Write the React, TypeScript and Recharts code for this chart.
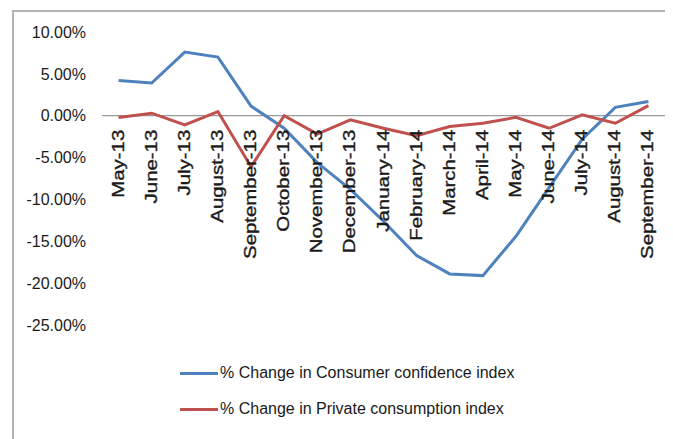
import React from 'react';
import { LineChart, Line, XAxis, YAxis, ReferenceLine } from 'recharts';

const months = [
  'May-13', 'June-13', 'July-13', 'August-13', 'September-13', 'October-13', 'November-13',
  'December-13', 'January-14', 'February-14', 'March-14', 'April-14', 'May-14', 'June-14',
  'July-14', 'August-14', 'September-14',
];
const consumerConfidence = [
  4.2, 3.9, 7.6, 7.0, 1.15, -1.5, -5.6, -8.8, -12.6, -16.7, -18.9, -19.1, -14.4, -8.6, -2.8, 1.0, 1.7,
];
const privateConsumption = [
  -0.2, 0.3, -1.1, 0.5, -6.1, 0.0, -2.2, -0.5, -1.5, -2.4, -1.3, -0.9, -0.2, -1.5, 0.1, -0.9, 1.2,
];
const yTicks = [-25, -20, -15, -10, -5, 0, 5, 10];
const seriesNames = ['% Change in Consumer confidence index', '% Change in Private consumption index'];

const BLUE = '#4f81bd';
const RED = '#c0504d';
const FONT = '"Liberation Sans", Arial, sans-serif';

const W = 659;
const H = 330;
const MARGIN = { top: 20, right: 8, left: 0, bottom: 16 };
const X_AXIS_H = 1;
const Y_MIN = -25;
const Y_MAX = 10;

const data = months.map((m, i) => ({
  month: m,
  consumer: consumerConfidence[i],
  privateCons: privateConsumption[i],
}));

// y of the 0% line inside the svg, from the plot box and the y domain
const plotH = H - MARGIN.top - MARGIN.bottom - X_AXIS_H;
const zeroY = MARGIN.top + (plotH * Y_MAX) / (Y_MAX - Y_MIN);

// Excel puts the category labels next to the 0% axis, not at the bottom
const renderMonthTick = (props: any) => {
  const { x, payload } = props;
  const tx = x + 5;
  const ty = zeroY + 14;
  return (
    <text
      x={0}
      y={0}
      transform={`translate(${tx},${ty}) rotate(-90) scale(1.2,1)`}
      textAnchor="end"
      fontFamily={FONT}
      fontSize={17}
      fill="#1a1a1a"
      stroke="#1a1a1a"
      strokeWidth={0.35}
    >
      {payload.value}
    </text>
  );
};

export default function App() {
  const colors = [BLUE, RED];
  return (
    <div
      style={{
        position: 'relative',
        marginLeft: 4,
        marginTop: 2,
        width: W,
        height: 427,
        borderTop: '2px solid #b4b4b4',
        borderLeft: '2px solid #b4b4b4',
        background: '#fff',
      }}
    >
      <LineChart width={W} height={H} data={data} margin={MARGIN}>
        <XAxis
          dataKey="month"
          scale="band"
          height={X_AXIS_H}
          axisLine={false}
          tickLine={false}
          interval={0}
          tick={renderMonthTick}
        />
        <YAxis
          width={88}
          domain={[Y_MIN, Y_MAX]}
          ticks={yTicks}
          axisLine={false}
          tickLine={false}
          tickMargin={10}
          tickFormatter={(v: number) => `${v.toFixed(2)}%`}
          tick={{ fontFamily: FONT, fontSize: 16, fill: '#1a1a1a' }}
        />
        <ReferenceLine y={0} stroke="#808080" strokeWidth={1} />
        <Line
          type="linear"
          dataKey="consumer"
          name={seriesNames[0]}
          stroke={BLUE}
          strokeWidth={3}
          dot={false}
          isAnimationActive={false}
        />
        <Line
          type="linear"
          dataKey="privateCons"
          name={seriesNames[1]}
          stroke={RED}
          strokeWidth={3}
          dot={false}
          isAnimationActive={false}
        />
      </LineChart>
      <div style={{ position: 'absolute', left: 166, top: 343, fontFamily: FONT, fontSize: 16, color: '#1a1a1a' }}>
        {seriesNames.map((name, i) => (
          <div key={name} style={{ display: 'flex', alignItems: 'center', height: 36 }}>
            <span style={{ display: 'inline-block', width: 38, height: 3, background: colors[i], marginRight: 2 }} />
            <span>{name}</span>
          </div>
        ))}
      </div>
    </div>
  );
}
